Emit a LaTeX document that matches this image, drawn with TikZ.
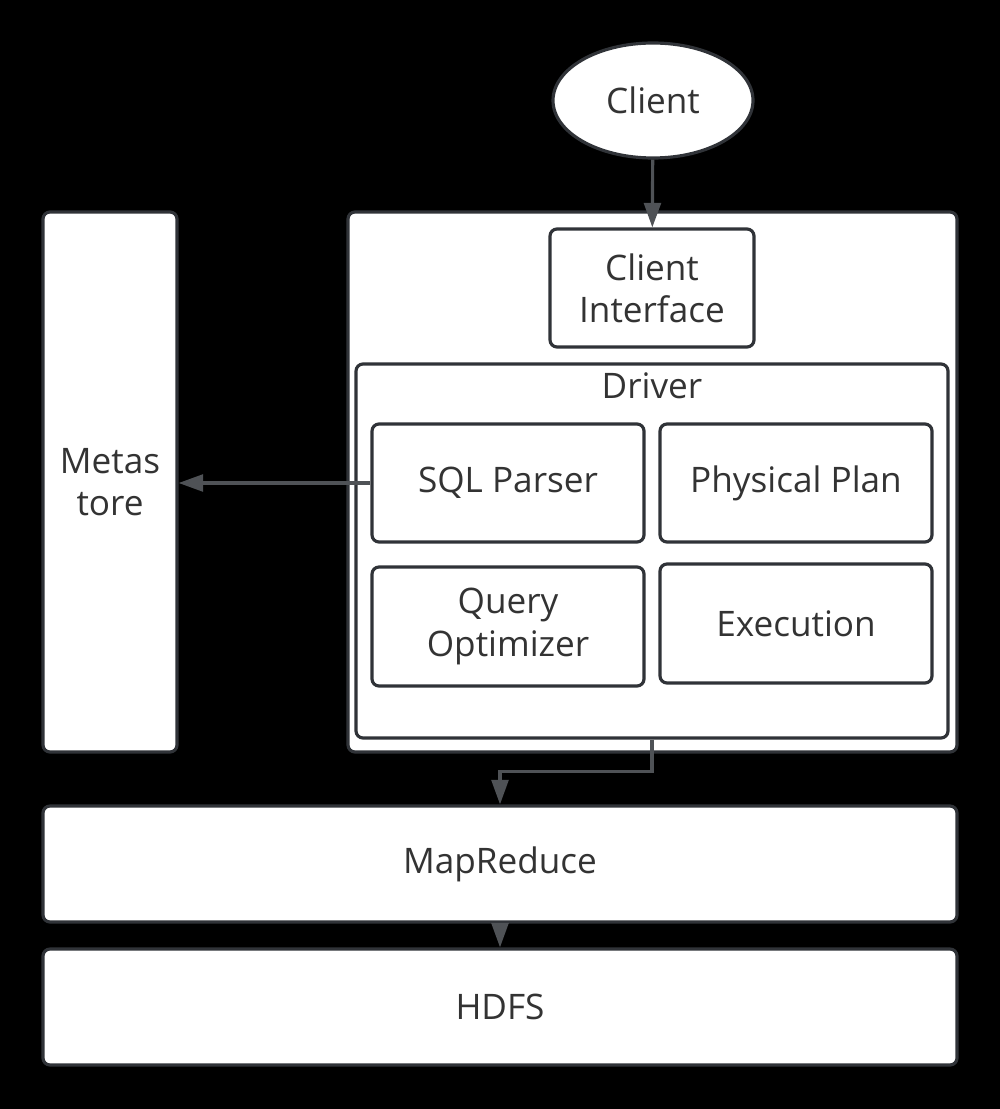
\documentclass[tikz,border=0pt]{standalone}
\usepackage{fontspec}
\setmainfont{Open Sans}
\usepackage{xcolor}
\usepackage{tikz}
\usetikzlibrary{positioning, calc, shapes, arrows.meta}
\definecolor{edgegray}{HTML}{303338}
\definecolor{textgray}{HTML}{333333}

\begin{document}
\begin{tikzpicture}[font=\fontsize{10}{12}\selectfont,
	box/.style={draw=edgegray, line width=0.9pt, fill=white, rounded corners=2pt, text=textgray, align=center, inner sep=0pt},
	arr/.style={draw=edgegray!85, line width=0.9pt, -{Triangle[length=7pt, width=4.8pt]}}]
	% page
	\fill[black] (0,0) rectangle (10,-11.09);
	\useasboundingbox (0,0) rectangle (10,-11.09);
	
	\node[box, ellipse, minimum width=2cm, minimum height=1.15cm] (client) at (6.53,-1.005) {Client};
	
	\node[box, minimum width=6.09cm, minimum height=5.4cm] (hive) at (6.525,-4.82) {};
	\node[box, minimum width=2.04cm, minimum height=1.18cm] (ci) at (6.52,-2.88) {Client\\Interface};
	\node[box, minimum width=5.92cm, minimum height=3.74cm,
		label={[anchor=north, inner sep=0pt, text=textgray, yshift=-0.1cm]north:Driver}] (driver) at (6.52,-5.51) {};
	
	\node[box, minimum width=2.72cm, minimum height=1.18cm] (sql) at (5.08,-4.83) {SQL Parser};
	\node[box, minimum width=2.72cm, minimum height=1.18cm] (plan) at (7.96,-4.83) {Physical Plan};
	\node[box, minimum width=2.72cm, minimum height=1.19cm] (opt) at (5.08,-6.265) {Query\\Optimizer};
	\node[box, minimum width=2.72cm, minimum height=1.19cm] (exec) at (7.96,-6.235) {Execution};
	
	\node[box, minimum width=1.34cm, minimum height=5.4cm] (meta) at (1.10,-4.82) {Metas\\tore};
	
	\node[box, minimum width=9.14cm, minimum height=1.16cm] (mr) at (5.0,-8.64) {MapReduce};
	\node[box, minimum width=9.14cm, minimum height=1.16cm] (hdfs) at (5.0,-10.07) {HDFS};
	
	\draw[arr] (client) -- (ci);
	\draw[arr] (sql.west) -- (sql.west -| meta.east);
	\draw[arr] (driver.south) -- ++(0,-0.32) -| (mr.north);
	\draw[arr] (mr) -- (hdfs);
\end{tikzpicture}
\end{document}
